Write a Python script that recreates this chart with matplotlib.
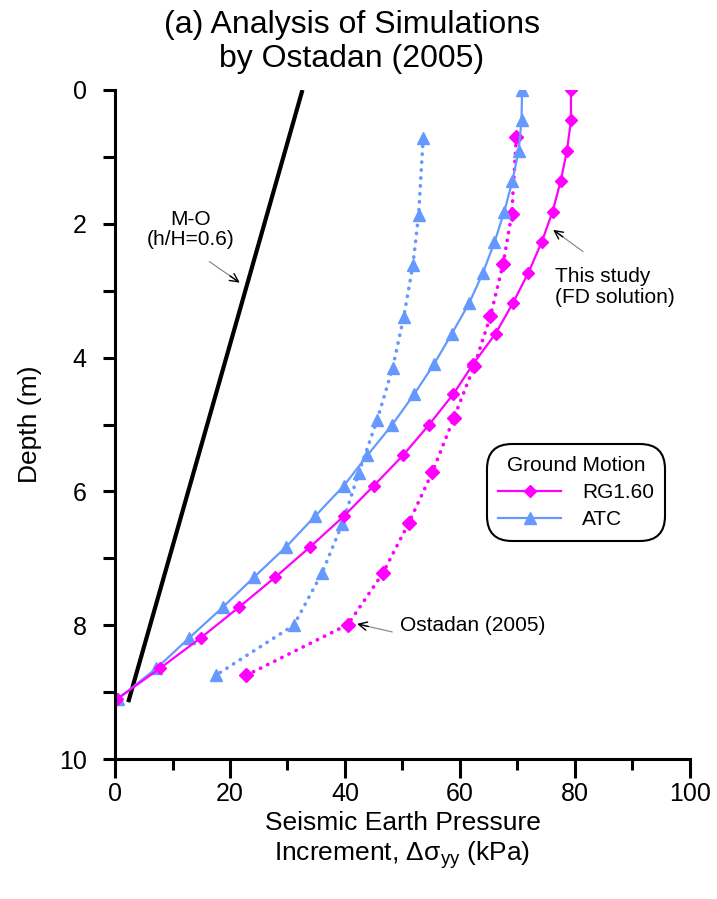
import numpy as np
import matplotlib
matplotlib.use('Agg')
import matplotlib.pyplot as plt

plt.rcParams['font.family'] = ['Liberation Sans', 'DejaVu Sans']
plt.rcParams['mathtext.fontset'] = 'custom'
plt.rcParams['mathtext.rm'] = 'Liberation Sans'

# Datos
# Este estudio (solucion FD)
z_fd = [0.0, 0.455, 0.91, 1.365, 1.82, 2.275, 2.73, 3.185, 3.64, 4.095, 4.55,
        5.005, 5.46, 5.915, 6.37, 6.825, 7.28, 7.735, 8.19, 8.645, 9.1]
rg_fd = [79.3, 79.3, 78.6, 77.5, 76.1, 74.2, 71.9, 69.2, 66.2, 62.3, 58.8,
         54.6, 50.1, 45.0, 39.8, 34.0, 27.9, 21.5, 14.9, 7.8, 0.4]
atc_fd = [70.8, 70.7, 70.2, 69.1, 67.7, 66.0, 64.0, 61.6, 58.6, 55.5, 52.0,
          48.2, 43.9, 39.8, 34.8, 29.8, 24.2, 18.7, 12.9, 7.2, 0.5]

# Ostadan (2005)
z_ost_rg = [0.71, 1.86, 2.60, 3.38, 4.12, 4.91, 5.71, 6.47, 7.22, 7.99, 8.75]
rg_ost = [69.8, 69.0, 67.5, 65.3, 62.5, 58.9, 55.2, 51.1, 46.6, 40.5, 22.8]
z_ost_atc = [0.72, 1.87, 2.62, 3.40, 4.15, 4.93, 5.72, 6.49, 7.22, 8.00, 8.75]
atc_ost = [53.6, 52.8, 51.8, 50.2, 48.3, 45.6, 42.4, 39.5, 36.0, 31.1, 17.5]

# M-O (h/H=0.6)
z_mo = [0.0, 9.15]
mo = [32.6, 2.3]

magenta = '#FF00FF'
blue = '#6699FF'

fig = plt.figure(figsize=(7.17, 8.99), dpi=100)
ax = fig.add_axes([0.1604, 0.1557, 0.8019, 0.7442])

ax.plot(mo, z_mo, '-', color='black', lw=3.0, solid_capstyle='butt')
ax.plot(atc_ost, z_ost_atc, color=blue, lw=2.6, linestyle=(0, (0.1, 2.1)),
        dash_capstyle='round', marker='^', ms=9)
ax.plot(rg_ost, z_ost_rg, color=magenta, lw=2.6, linestyle=(0, (0.1, 2.1)),
        dash_capstyle='round', marker='D', ms=7)
ax.plot(atc_fd, z_fd, '-', color=blue, lw=1.6, marker='^', ms=9, label='ATC')
ax.plot(rg_fd, z_fd, '-', color=magenta, lw=1.6, marker='D', ms=6.5, label='RG1.60')

ax.set_xlim(0, 100)
ax.set_ylim(10, 0)
ax.set_xticks(np.arange(0, 101, 20))
ax.set_xticks(np.arange(10, 100, 20), minor=True)
ax.set_yticks(np.arange(0, 11, 2))
ax.set_yticks(np.arange(1, 10, 2), minor=True)
ax.tick_params(axis='x', which='major', length=13.5, width=2.2, labelsize=18, pad=3)
ax.tick_params(axis='x', which='minor', length=8, width=2.2)
ax.tick_params(axis='y', which='both', length=8.5, width=2.2, labelsize=18, pad=12)
for s in ['top', 'right']:
    ax.spines[s].set_visible(False)
for s in ['left', 'bottom']:
    ax.spines[s].set_linewidth(2.2)

ax.set_ylabel('Depth (m)', fontsize=19, labelpad=12)
ax.set_xlabel('Seismic Earth Pressure\nIncrement, $\\mathregular{\\Delta\\sigma_{yy}}$ (kPa)',
              fontsize=19, labelpad=4, linespacing=1.2)
fig.text(0.491, 0.989, '(a) Analysis of Simulations\nby Ostadan (2005)', ha='center', va='top',
         fontsize=23, linespacing=1.2)

# Anotaciones: linea gris con punta negra
def flecha(head, tail):
    ax.annotate('', xy=head, xytext=tail,
                arrowprops=dict(arrowstyle='-', color='grey', lw=0.8))
    mid = (head[0] + 0.3 * (tail[0] - head[0]), head[1] + 0.3 * (tail[1] - head[1]))
    ax.annotate('', xy=head, xytext=mid,
                arrowprops=dict(arrowstyle='->,head_length=0.6,head_width=0.3', color='black', lw=1.0,
                                shrinkA=0, shrinkB=0))

ax.text(13.2, 2.09, 'M-O\n(h/H=0.6)', ha='center', va='center', fontsize=15, linespacing=1.05)
flecha((21.7, 2.88), (16.0, 2.54))
ax.text(76.6, 2.95, 'This study\n(FD solution)', ha='left', va='center', fontsize=15, linespacing=1.15)
flecha((76.2, 2.09), (81.8, 2.44))
ax.text(49.6, 8.0, 'Ostadan (2005)', ha='left', va='center', fontsize=15)
flecha((42.1, 7.98), (48.7, 8.11))

h, l = ax.get_legend_handles_labels()
leg = ax.legend(h[::-1], l[::-1], title='Ground Motion', loc='lower left',
                bbox_to_anchor=(0.647, 0.326), borderaxespad=0, fontsize=15, title_fontsize=15,
                frameon=True, fancybox=True, handlelength=3.0, borderpad=0.55,
                labelspacing=0.4, handletextpad=1.0)
leg.get_frame().set_edgecolor('black')
leg.get_frame().set_linewidth(1.5)
leg.get_frame().set_boxstyle('round,pad=0,rounding_size=1.2')
leg.get_frame().set_alpha(1)

fig.savefig('out.png', dpi=100)
